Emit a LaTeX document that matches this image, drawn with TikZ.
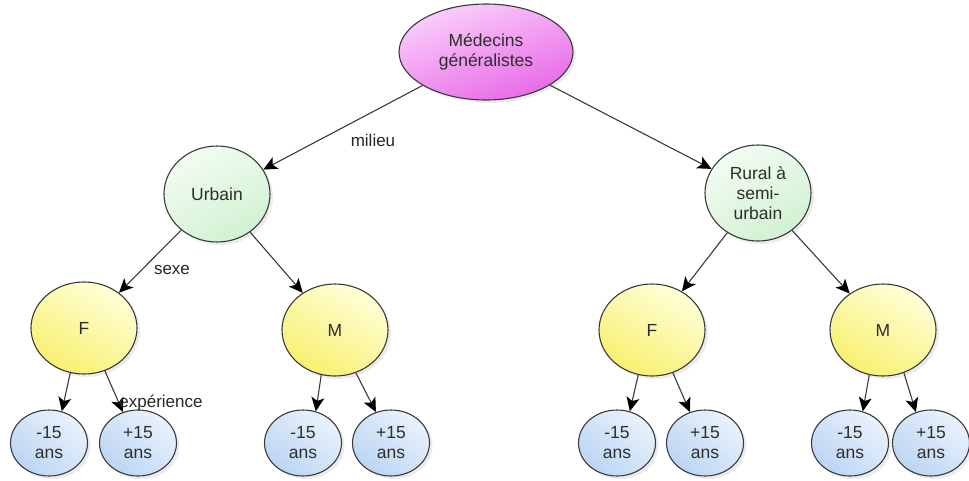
\documentclass[tikz,border=0pt]{standalone}
\usepackage{fontspec}
\setmainfont{Liberation Sans}
\usetikzlibrary{arrows.meta,shapes.geometric,shadows}

\definecolor{inkgray}{HTML}{2E2E2E}
\definecolor{edgegray}{HTML}{3A3A3A}
\definecolor{pinkA}{HTML}{FAD0FA}
\definecolor{pinkB}{HTML}{E868E8}
\definecolor{greenA}{HTML}{F2FCF2}
\definecolor{greenB}{HTML}{D2F1D2}
\definecolor{yellowA}{HTML}{FFFFD8}
\definecolor{yellowB}{HTML}{F8F070}
\definecolor{blueA}{HTML}{EAF2FD}
\definecolor{blueB}{HTML}{BCD5F3}

\begin{document}
\begin{tikzpicture}[x=1pt,y=-1pt,
  every node/.style={font=\fontsize{17.5}{20}\selectfont, text=inkgray, align=center},
  bub/.style={ellipse, draw=edgegray, line width=1.1pt, inner sep=0pt,
    drop shadow={opacity=0.15, shadow xshift=3pt, shadow yshift=-3pt}},
  rootbub/.style={bub, minimum width=174pt, minimum height=96pt,
    shading=axis, top color=pinkA, bottom color=pinkB, shading angle=20},
  midbub/.style={bub, minimum width=106pt, minimum height=96pt,
    shading=axis, top color=greenA, bottom color=greenB, shading angle=30},
  sexbub/.style={bub, minimum width=106pt, minimum height=92pt,
    shading=axis, top color=yellowA, bottom color=yellowB, shading angle=-30},
  leafbub/.style={bub, minimum width=77pt, minimum height=66pt,
    shading=axis, top color=blueA, bottom color=blueB, shading angle=-40},
  edge/.style={draw=edgegray, line width=1.1pt,
    -{Stealth[length=14pt,width=13pt,inset=3.5pt,color=black]}},
  lbl/.style={font=\fontsize{17}{20}\selectfont, text=black!85}
]
\useasboundingbox (0,0) rectangle (969,480);

% top level
\node[rootbub] (root) at (486,52) {Médecins\\généralistes};

% milieu
\node[midbub] (urb) at (217,194) {Urbain};
\node[midbub] (rur) at (758,193) {Rural à\\semi-\\urbain};

% sexe
\node[sexbub] (fu) at (84,328) {F};
\node[sexbub] (mu) at (335,330) {M};
\node[sexbub] (fr) at (652,330) {F};
\node[sexbub] (mr) at (883,330) {M};

% expérience
\node[leafbub] (fu1) at (49,443) {-15\\ans};
\node[leafbub] (fu2) at (138,443) {+15\\ans};
\node[leafbub] (mu1) at (303,443) {-15\\ans};
\node[leafbub] (mu2) at (391,443) {+15\\ans};
\node[leafbub] (fr1) at (617,443) {-15\\ans};
\node[leafbub] (fr2) at (705,443) {+15\\ans};
\node[leafbub] (mr1) at (850,443) {-15\\ans};
\node[leafbub] (mr2) at (931,443) {+15\\ans};

% connectors
\draw[edge] (root) -- (urb);
\draw[edge] (root) -- (rur);
\draw[edge] (urb) -- (fu);
\draw[edge] (urb) -- (mu);
\draw[edge] (rur) -- (fr);
\draw[edge] (rur) -- (mr);
\foreach \p/\a/\b in {fu/fu1/fu2, mu/mu1/mu2, fr/fr1/fr2, mr/mr1/mr2}{
  \draw[edge] (\p.-107) -- (\a.68);
  \draw[edge] (\p.-64) -- (\b.116);
}

% criterion labels
\node[lbl] (lmil) at (373,140) {milieu};
\node[lbl] (lsex) at (172,270) {sexe};
\node[lbl] (lexp) at (161,403) {expérience};
\end{tikzpicture}
\end{document}
